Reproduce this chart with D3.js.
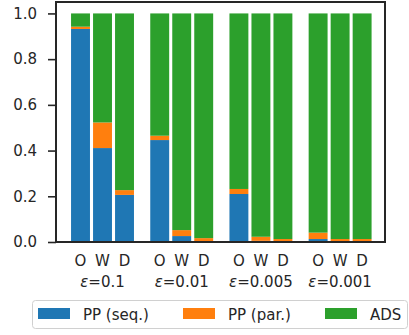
<!DOCTYPE html>
<meta charset="utf-8">
<html>
<head>
  <script src="https://d3js.org/d3.v7.min.js"></script>
  <style>
    body { margin: 0; background: #fff; }
    text { font-family: 'DejaVu Sans', sans-serif; font-size: 15px; fill: #262626; }
    .y-axis path { display: none; }
    .y-axis line { stroke: #262626; stroke-width: 1.6; }
  </style>
</head>
<body>
<script>
  // Data
  var groups = ["0.1", "0.01", "0.005", "0.001"];
  var methods = ["O", "W", "D"];
  var ppSeq = [[0.932, 0.411, 0.206], [0.446, 0.026, 0.003], [0.210, 0.005, 0.002], [0.013, 0.002, 0.002]];
  var ppPar = [[0.010, 0.112, 0.021], [0.019, 0.026, 0.014], [0.022, 0.018, 0.011], [0.028, 0.011, 0.011]];
  var ads   = [[0.058, 0.477, 0.773], [0.535, 0.948, 0.983], [0.768, 0.977, 0.987], [0.959, 0.987, 0.987]];
  var seriesNames = ["PP (seq.)", "PP (par.)", "ADS"];
  var colors = ["#1f77b4", "#ff7f0e", "#2ca02c"];
  var yTicks = [0, 0.2, 0.4, 0.6, 0.8, 1.0];

  var W = 409, H = 335;
  var m = { left: 56, right: 24, top: 2, bottom: 93 };

  var svg = d3.select("body").append("svg")
    .attr("width", W).attr("height", H);

  // flat table, one row per bar
  var rows = [];
  groups.forEach((g, gi) => {
    methods.forEach((mm, mi) => {
      rows.push({ g: gi, m: mi, pos: gi * 3.6 + mi, label: mm,
        "PP (seq.)": ppSeq[gi][mi], "PP (par.)": ppPar[gi][mi], "ADS": ads[gi][mi] });
    });
  });

  var x = d3.scaleLinear().domain([-1.114, 13.84]).range([m.left, W - m.right]);
  var y = d3.scaleLinear().domain([0, 1.05]).range([H - m.bottom, m.top]);
  var bw = x(0.86) - x(0);

  var stacked = d3.stack().keys(seriesNames)(rows);

  svg.selectAll(".layer")
    .data(stacked)
    .enter().append("g")
    .attr("fill", (d, i) => colors[i])
    .selectAll("rect")
    .data(d => d)
    .enter().append("rect")
    .attr("x", d => x(d.data.pos) - bw / 2)
    .attr("width", bw)
    .attr("y", d => y(d[1]))
    .attr("height", d => y(d[0]) - y(d[1]));

  // y axis
  svg.append("g")
    .attr("class", "y-axis")
    .attr("transform", `translate(${m.left},0)`)
    .call(d3.axisLeft(y).tickValues(yTicks).tickFormat(d3.format(".1f")).tickSize(8).tickPadding(11))
    .selectAll("text").style("font-size", "15px").attr("fill", "#262626");

  // frame
  svg.append("rect")
    .attr("x", m.left).attr("y", m.top)
    .attr("width", W - m.left - m.right)
    .attr("height", H - m.top - m.bottom)
    .attr("fill", "none").attr("stroke", "#262626").attr("stroke-width", 2);

  // bar labels
  svg.selectAll(".mlab")
    .data(rows)
    .enter().append("text")
    .attr("x", d => x(d.pos))
    .attr("y", 266)
    .attr("text-anchor", "middle")
    .text(d => d.label);

  // group labels
  var gl = svg.selectAll(".glab")
    .data(groups)
    .enter().append("text")
    .attr("x", (d, i) => x(i * 3.6 + 1))
    .attr("y", 287)
    .attr("text-anchor", "middle");
  gl.append("tspan").style("font-style", "italic").text("ε");
  gl.append("tspan").text(d => "=" + d);

  // legend
  var lg = svg.append("g");
  lg.append("rect")
    .attr("x", 32.5).attr("y", 300.5).attr("width", 375).attr("height", 28)
    .attr("rx", 3).attr("fill", "#fff").attr("stroke", "#d0d0d0").attr("stroke-width", 1);
  var lx = [38, 183, 325];
  seriesNames.forEach((s, i) => {
    lg.append("rect")
      .attr("x", lx[i]).attr("y", 308).attr("width", 32).attr("height", 11)
      .attr("fill", colors[i]);
    lg.append("text")
      .attr("x", lx[i] + 45).attr("y", 319.5)
      .text(s);
  });
</script>
</body>
</html>
